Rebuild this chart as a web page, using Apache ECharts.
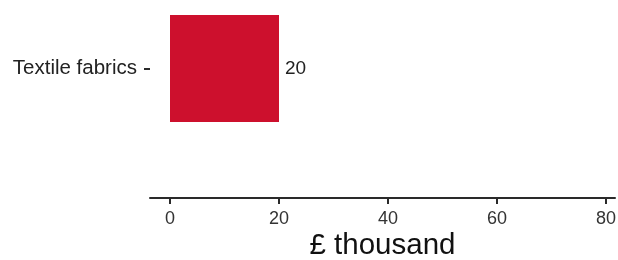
<!DOCTYPE html>
<html>
<head>
<meta charset="utf-8">
<script src="https://cdn.jsdelivr.net/npm/echarts@6/dist/echarts.min.js"></script>
<style>html,body{margin:0;padding:0;background:#fff}#c{width:618px;height:260px}</style>
</head>
<body>
<div id="c"></div>
<script>
var categories = ['Textile fabrics'];
var values = [20];
var tickValues = [0, 20, 40, 60, 80];
var axisTitle = '£ thousand';

var chart = echarts.init(document.getElementById('c'), null, {renderer: 'canvas'});
var font = '"Liberation Sans", Arial, sans-serif';
chart.setOption({
  animation: false,
  backgroundColor: '#fff',
  grid: {left: 150, right: 3, top: 15, bottom: 138, containLabel: false, outerBoundsMode: 'none'},
  xAxis: {
    type: 'value',
    min: -3.67,
    max: 81.65,
    offset: 76,
    splitLine: {show: false},
    axisLine: {show: true, lineStyle: {color: '#2a2a2a', width: 2}},
    axisTick: {show: true, customValues: tickValues, length: 6, lineStyle: {color: '#2a2a2a', width: 2}},
    axisLabel: {customValues: tickValues, color: '#333', fontSize: 18, fontFamily: font, margin: 12},
    name: axisTitle,
    nameLocation: 'middle',
    nameGap: 33,
    nameTextStyle: {color: '#111', fontSize: 29.5, fontFamily: font}
  },
  yAxis: {
    type: 'category',
    data: categories,
    axisLine: {show: false, onZero: false},
    axisTick: {show: true, alignWithLabel: true, length: 6, lineStyle: {color: '#2a2a2a', width: 2}},
    axisLabel: {color: '#222', fontSize: 20.5, fontFamily: font, margin: 13}
  },
  series: [{
    type: 'bar',
    data: values,
    barWidth: '100%',
    itemStyle: {color: '#CD102D'},
    label: {show: true, position: 'right', distance: 6, color: '#222', fontSize: 19, fontFamily: font}
  }]
});
</script>
</body>
</html>
